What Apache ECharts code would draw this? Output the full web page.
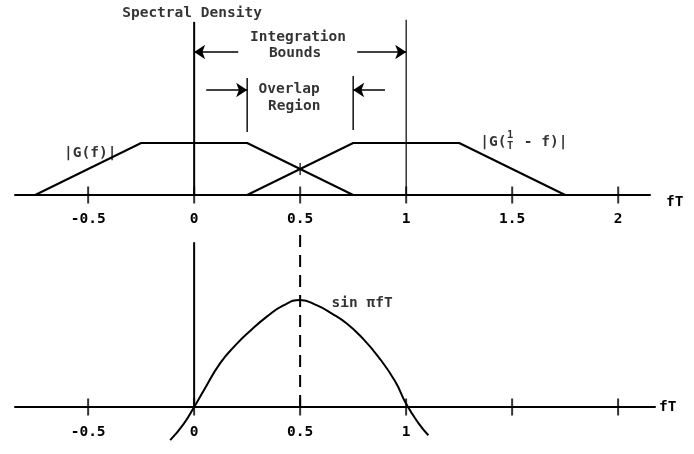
<!DOCTYPE html>
<html>
<head>
<meta charset="utf-8">
<title>Spectral Density</title>
<script src="https://cdn.jsdelivr.net/npm/echarts@6/dist/echarts.min.js"></script>
<style>
  html, body { margin: 0; padding: 0; background: #fff; }
  #chart { width: 694px; height: 454px; }
</style>
</head>
<body>
<div id="chart"></div>
<script>
// fT tick marks and their labels
var tickValues = [-0.5, 0, 0.5, 1, 1.5, 2];
var topTickLabels = [-0.5, 0, 0.5, 1, 1.5, 2];
var bottomTickLabels = [-0.5, 0, 0.5, 1];

// |G(f)| and |G(1/T - f)|
var gF = [[-0.75, 0], [-0.25, 1], [0.25, 1], [0.75, 0]];
var gShifted = [[0.25, 0], [0.75, 1], [1.25, 1], [1.75, 0]];

// sin(pi fT) as drawn in the bottom panel
var sinCurve = [
  [-0.113, -0.31], [-0.05, -0.16], [0, 0], [0.044, 0.15], [0.123, 0.41],
  [0.201, 0.59], [0.264, 0.71], [0.343, 0.845], [0.421, 0.95], [0.5, 1.0],
  [0.58, 0.95], [0.65, 0.873], [0.72, 0.78], [0.791, 0.65], [0.87, 0.467],
  [0.948, 0.24], [1.0, 0.03], [1.058, -0.15], [1.105, -0.264]
];

// vertical markers: [fT, from, to]
var boundLines = [[0, 0, 3.33], [1, 0, 3.37]];
var overlapLines = [[0.25, 1.21, 2.25], [0.75, 1.25, 2.29]];
var bottomZeroLine = [0, 0, 1.54];
var midDashLine = [0.5, 0, 1.67];

// arrows: [from fT, to fT, level]
var integrationArrows = [[0.208, 0, 2.75], [0.769, 1, 2.75]];
var overlapArrows = [[0.057, 0.25, 2.02], [0.9, 0.75, 2.02]];

var INK = '#000';
var FONT = 'DejaVu Sans Mono';
var WEIGHT = 'bold';

function segment(gi, v, width, type) {
  return {
    type: 'line', xAxisIndex: gi, yAxisIndex: gi, silent: true,
    symbol: 'none', clip: false,
    lineStyle: { color: INK, width: width, type: type || 'solid' },
    data: [[v[0], v[1]], [v[0], v[2]]]
  };
}

function arrows(gi, list) {
  return {
    type: 'line', xAxisIndex: gi, yAxisIndex: gi, data: [], silent: true,
    markLine: {
      silent: true, animation: false,
      symbol: ['none', 'arrow'], symbolSize: 11,
      label: { show: false },
      lineStyle: { color: INK, width: 1.5, type: 'solid' },
      data: list.map(function (a) {
        return [{ coord: [a[0], a[2]] }, { coord: [a[1], a[2]] }];
      })
    }
  };
}

function ticks(gi, list, size) {
  return {
    type: 'scatter', xAxisIndex: gi, yAxisIndex: gi, silent: true,
    symbol: 'rect', symbolSize: size,
    itemStyle: { color: INK },
    data: list
  };
}

// [text, fT, y, anchor, fontSize]
function texts(gi, list) {
  return {
    type: 'scatter', xAxisIndex: gi, yAxisIndex: gi, silent: true,
    symbolSize: 0, z: 5,
    data: list.map(function (t) {
      return {
        value: [t[1], t[2]],
        label: {
          show: true,
          formatter: function () { return t[0]; },
          position: t[3] === 'left' ? 'right' : 'inside',
          distance: 0,
          color: INK,
          textBorderWidth: 0,
          fontFamily: FONT,
          fontWeight: WEIGHT,
          fontSize: t[4] || 14.5
        }
      };
    })
  };
}

function xAxisFor(gi, max, labels, margin, nameGap, nameAlign) {
  return {
    type: 'value', gridIndex: gi, min: -0.845, max: max,
    axisLine: { show: true, onZero: false, lineStyle: { color: INK, width: 2 } },
    axisTick: { show: false },
    splitLine: { show: false },
    axisLabel: {
      customValues: labels, margin: margin,
      color: INK, fontFamily: FONT, fontWeight: WEIGHT, fontSize: 14.5,
      formatter: function (v) { return String(v); }
    },
    name: 'fT', nameLocation: 'end', nameGap: nameGap,
    nameTextStyle: {
      color: INK, fontFamily: FONT, fontWeight: WEIGHT, fontSize: 14.5, verticalAlign: nameAlign
    }
  };
}

var chart = echarts.init(document.getElementById('chart'));

chart.setOption({
  animation: false,
  backgroundColor: '#fff',
  grid: [
    { left: 15, top: 13, width: 635, height: 182, outerBoundsMode: 'none' },
    { left: 15, top: 225.1, width: 640, height: 181.9, outerBoundsMode: 'none' }
  ],
  xAxis: [
    xAxisFor(0, 2.15, topTickLabels, 17, 16, 'top'),
    xAxisFor(1, 2.174, bottomTickLabels, 18, 4, 'middle')
  ],
  yAxis: [
    { gridIndex: 0, type: 'value', min: 0, max: 3.5, show: false },
    { gridIndex: 1, type: 'value', min: 0, max: 1.7, show: false }
  ],
  series: [
    // top panel
    {
      type: 'line', xAxisIndex: 0, yAxisIndex: 0, data: gF, symbol: 'none',
      silent: true, lineStyle: { color: INK, width: 2 }
    },
    {
      type: 'line', xAxisIndex: 0, yAxisIndex: 0, data: gShifted, symbol: 'none',
      silent: true, lineStyle: { color: INK, width: 2 }
    },
    segment(0, boundLines[0], 2),
    segment(0, boundLines[1], 1.2),
    segment(0, overlapLines[0], 1.4),
    segment(0, overlapLines[1], 1.4),
    arrows(0, integrationArrows),
    arrows(0, overlapArrows),
    ticks(0, tickValues.map(function (v) { return [v, 0]; }), [2, 17]),
    ticks(0, [[0.5, 0.5]], [1.5, 12]),
    texts(0, [
      ['Spectral Density', -0.01, 3.5],
      ['Integration', 0.49, 3.04],
      ['Bounds', 0.476, 2.73],
      ['Overlap', 0.448, 2.04],
      ['Region', 0.472, 1.71],
      ['|G(f)|', -0.49, 0.81],
      ['|G(  - f)|', 1.349, 1.02, 'left'],
      ['1', 1.49, 1.14, null, 10.5],
      ['T', 1.49, 0.93, null, 10.5],
      ['Normalized Frequency', 1.538, -0.81]
    ]),
    // bottom panel
    {
      type: 'line', xAxisIndex: 1, yAxisIndex: 1, data: sinCurve, symbol: 'none',
      smooth: 0.5, clip: false, silent: true, lineStyle: { color: INK, width: 2 }
    },
    segment(1, bottomZeroLine, 2),
    segment(1, midDashLine, 2, [12, 8]),
    ticks(1, tickValues.map(function (v) { return [v, 0]; }), [2, 17]),
    texts(1, [
      ['sin \u03c0fT', 0.648, 0.97, 'left'],
      ['Normalized Frequency', 1.55, -0.31]
    ])
  ]
});
</script>
</body>
</html>
